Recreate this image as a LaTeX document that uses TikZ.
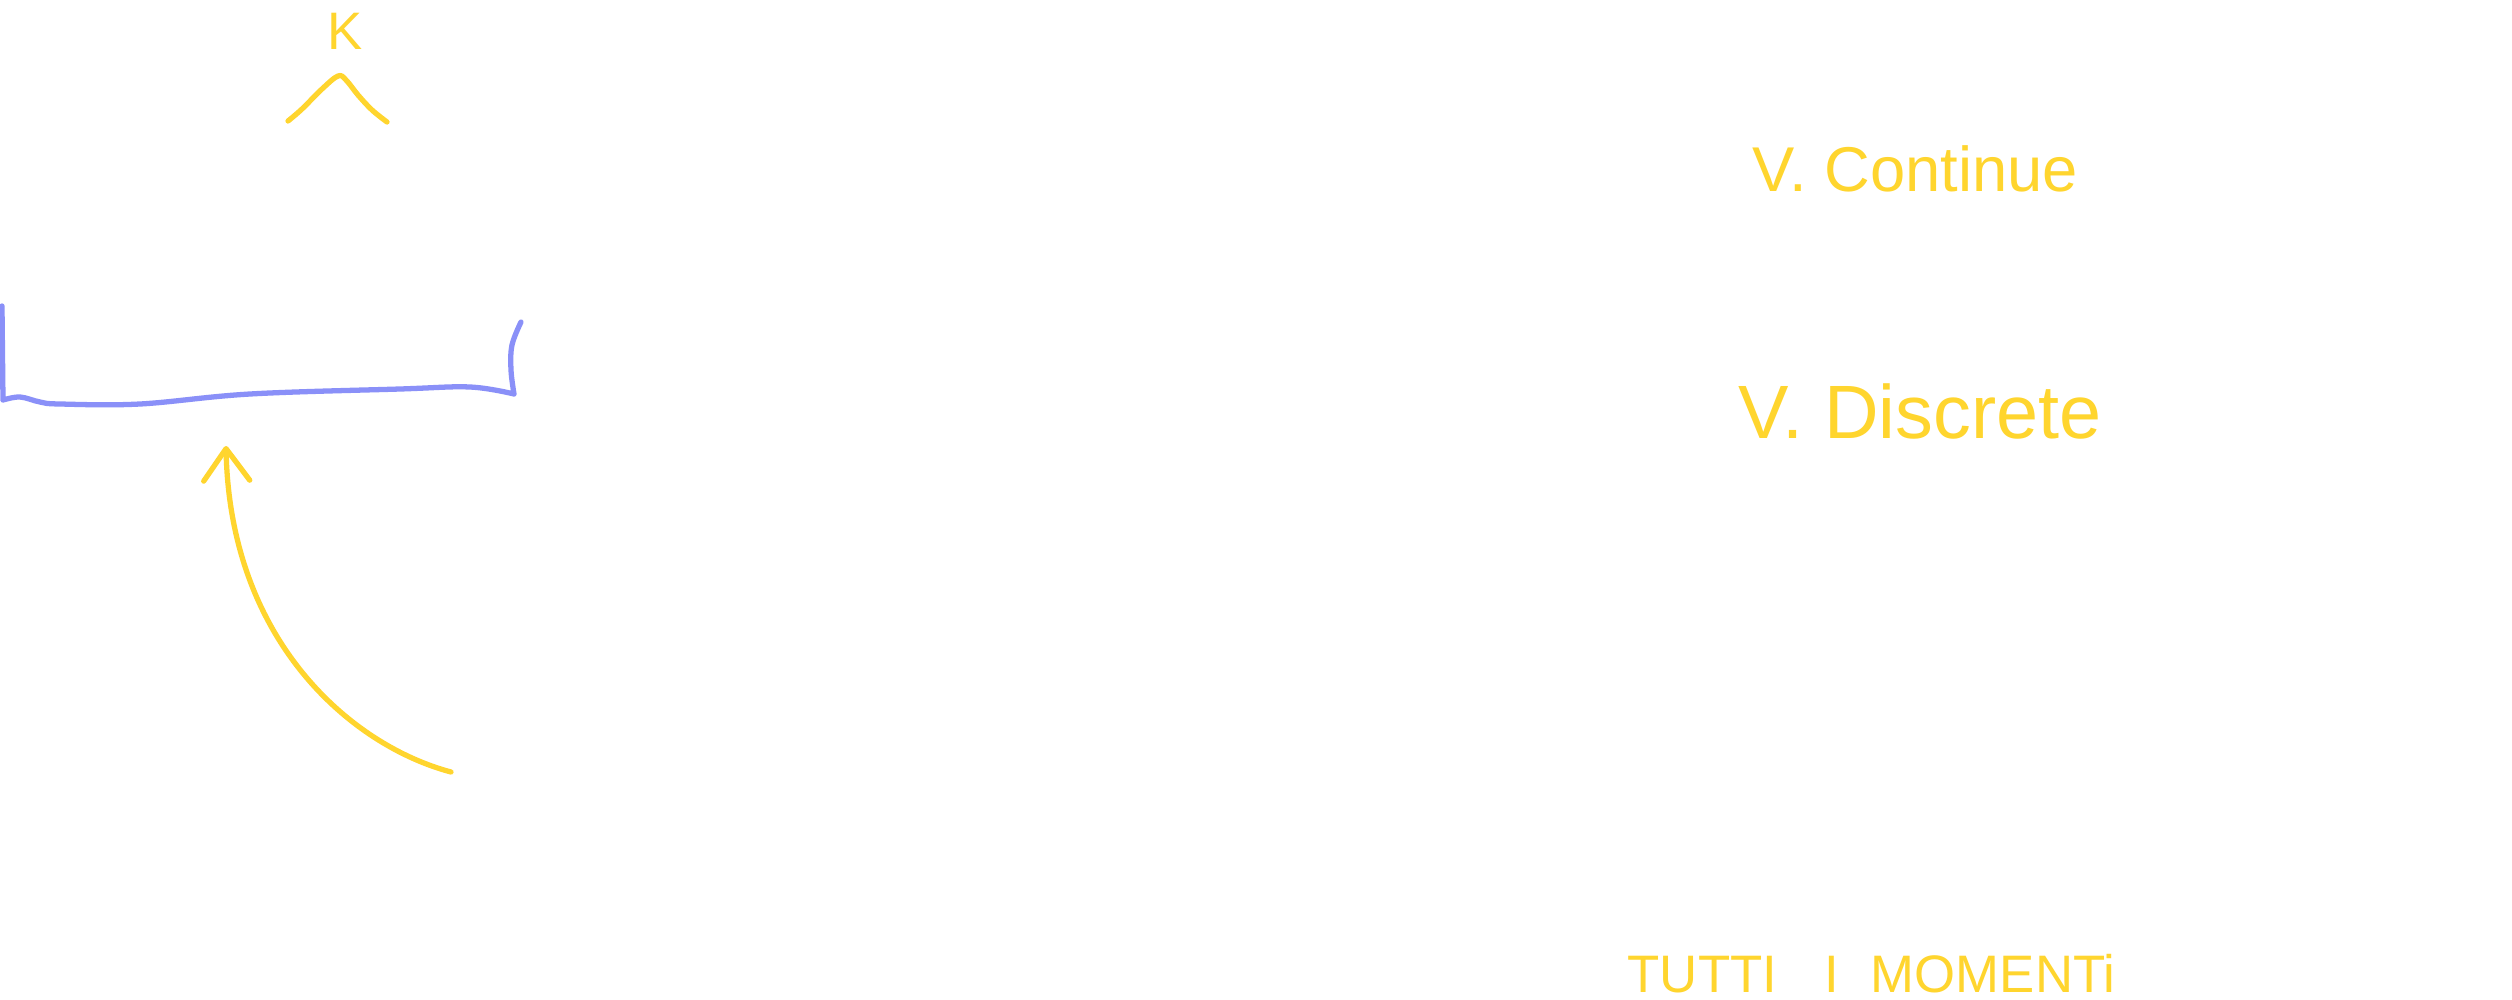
\documentclass[tikz,border=0pt]{standalone}
\usepackage{fontspec}
\setmainfont{Liberation Sans}
\usetikzlibrary{arrows.meta}
\definecolor{inkyellow}{HTML}{FFD52E}
\definecolor{inkblue}{HTML}{8A90F8}
\tikzset{
  note ink/.style={line width=1.5pt,line cap=round,line join=round},
  note brace/.style={note ink,inkblue},
  note mark/.style={note ink,inkyellow},
  note arrow/.style={note ink,inkyellow,-{Straight Barb[length=3.2mm,width=4.6mm,round]}},
  note text/.style={text=inkyellow,inner sep=0pt,anchor=base west}
}
\begin{document}
\begin{tikzpicture}[x=0.01cm,y=-0.01cm]
  \useasboundingbox (0,0) rectangle (2512,1000);
  \fill[white] (0,0) rectangle (2512,1000);
  \node[note text,font=\fontsize{15}{18}\selectfont] (kay) at (327,50) {K};
  \draw[note mark] plot[smooth,tension=.6] coordinates
    {(288,121) (302,109) (322,89) (338,76) (346,80) (358,95) (372,110) (387,122)};
  \draw[note brace] (2,306) -- (3,400)
    plot[smooth,tension=.6] coordinates
    {(3,400) (20,397) (40,402) (60,404) (140,404) (250,394) (400,389) (470,387) (514,394)}
    plot[smooth,tension=.6] coordinates {(514,394) (511,370) (512,345) (521,322)};
  \coordinate (tail) at (451,772);
  \coordinate (tip) at (226,446);
  \draw[note arrow] (tail) .. controls (350,745) and (230,640) .. (tip);
  \node[note text,font=\fontsize{18}{22}\selectfont] (cont) at (1752,191) {V. Continue};
  \node[note text,font=\fontsize{21.5}{26}\selectfont] (disc) at (1738,438) {V. Discrete};
  \node[note text,font=\fontsize{15}{18}\selectfont] (mom) at (1627,992)
    {TUTTI\hspace{0.9em}I\hspace{0.6em}MOMENTi};
\end{tikzpicture}
\end{document}
